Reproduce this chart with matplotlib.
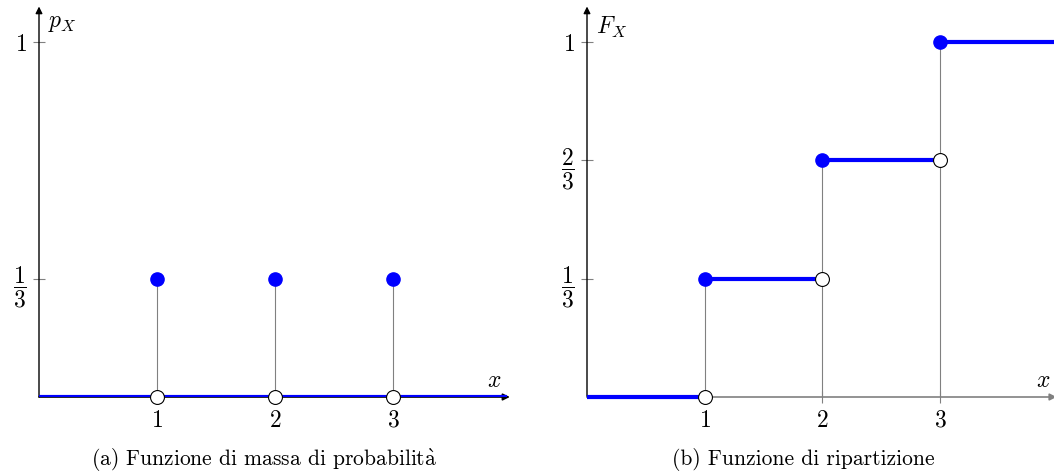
import matplotlib
matplotlib.use('Agg')
import matplotlib.pyplot as plt

plt.rcParams['font.family'] = ['cmr10', 'DejaVu Serif']
plt.rcParams['mathtext.fontset'] = 'cm'
plt.rcParams['axes.formatter.use_mathtext'] = True

# discrete uniform variable on {1, 2, 3}
support = [1, 2, 3]
pmf = [1/3, 1/3, 1/3]
cdf = [1/3, 2/3, 1.0]
x_ticklabels = ['$1$', '$2$', '$3$']
pmf_yticks = [1/3, 1]
pmf_yticklabels = [r'$\dfrac{1}{3}$', '$1$']
cdf_yticks = [1/3, 2/3, 1]
cdf_yticklabels = [r'$\dfrac{1}{3}$', r'$\dfrac{2}{3}$', '$1$']

BLUE = '#0000ff'
GRAY = '#808080'
XMAX = 3.97

W, H = 1054, 472
fig = plt.figure(figsize=(W / 100, H / 100), dpi=100)

def make_axes(left_px, unit_px):
    ax = fig.add_axes([left_px / W, 75 / H, 4 * unit_px / W, 1.1 * 355 / H])
    ax.set_xlim(0, 4)
    ax.set_ylim(0, 1.1)
    for s in ax.spines.values():
        s.set_visible(False)
    ax.tick_params(direction='inout', length=8, width=0.8, color=GRAY,
                   labelsize=17, pad=5)
    ax.set_xticks(support)
    ax.set_xticklabels(x_ticklabels)
    return ax

def draw_axes_arrows(ax, xcolor):
    ax.annotate('', xy=(0, 1.1), xytext=(0, 0), annotation_clip=False,
                arrowprops=dict(arrowstyle='-|>', color='black', lw=1,
                                mutation_scale=10, shrinkA=0, shrinkB=0))
    ax.annotate('', xy=(XMAX + 0.02, 0), xytext=(0, 0), annotation_clip=False,
                arrowprops=dict(arrowstyle='-|>', color=xcolor, lw=1.2,
                                mutation_scale=10, shrinkA=0, shrinkB=0))

# (a) probability mass function
ax1 = make_axes(39, 118)
ax1.set_yticks(pmf_yticks)
ax1.set_yticklabels(pmf_yticklabels)
draw_axes_arrows(ax1, 'black')
ax1.plot([0, XMAX], [0, 0], color=BLUE, lw=3, solid_capstyle='butt', zorder=3)
ax1.vlines(support, 0, pmf, color=GRAY, lw=0.8, zorder=2)
ax1.plot(support, pmf, 'o', color=BLUE, ms=9.5, zorder=4, clip_on=False)
ax1.plot(support, [0] * 3, 'o', mfc='white', mec='black', mew=0.8, ms=10,
         zorder=5, clip_on=False)
ax1.text(0.08, 1.055, '$p_X$', fontsize=17, va='center', ha='left')
ax1.text(3.86, 0.015, '$x$', fontsize=17, ha='center', va='bottom')
ax1.text(1.91, -0.175, r'(a) Funzione di massa di probabilit$\mathrm{\grave{a}}$',
         fontsize=15.5, ha='center', va='center')

# (b) cumulative distribution function
ax2 = make_axes(587, 117.7)
ax2.set_yticks(cdf_yticks)
ax2.set_yticklabels(cdf_yticklabels)
draw_axes_arrows(ax2, GRAY)
ax2.vlines(support, 0, cdf, color=GRAY, lw=0.8, zorder=2)
starts = [0] + support
ends = support + [XMAX]
levels = [0] + cdf
for a, b, lev in zip(starts, ends, levels):
    ax2.plot([a, b], [lev, lev], color=BLUE, lw=3, solid_capstyle='butt',
             zorder=3, clip_on=False)
ax2.plot(support, cdf, 'o', color=BLUE, ms=9.5, zorder=4, clip_on=False)
ax2.plot(support, [0] + cdf[:-1], 'o', mfc='white', mec='black', mew=0.8,
         ms=10, zorder=5, clip_on=False)
ax2.text(0.08, 1.04, '$F_X$', fontsize=17, va='center', ha='left')
ax2.text(3.88, 0.015, '$x$', fontsize=17, ha='center', va='bottom')
ax2.text(1.84, -0.175, '(b) Funzione di ripartizione', fontsize=15.5,
         ha='center', va='center')

fig.savefig('out.png', dpi=100)
